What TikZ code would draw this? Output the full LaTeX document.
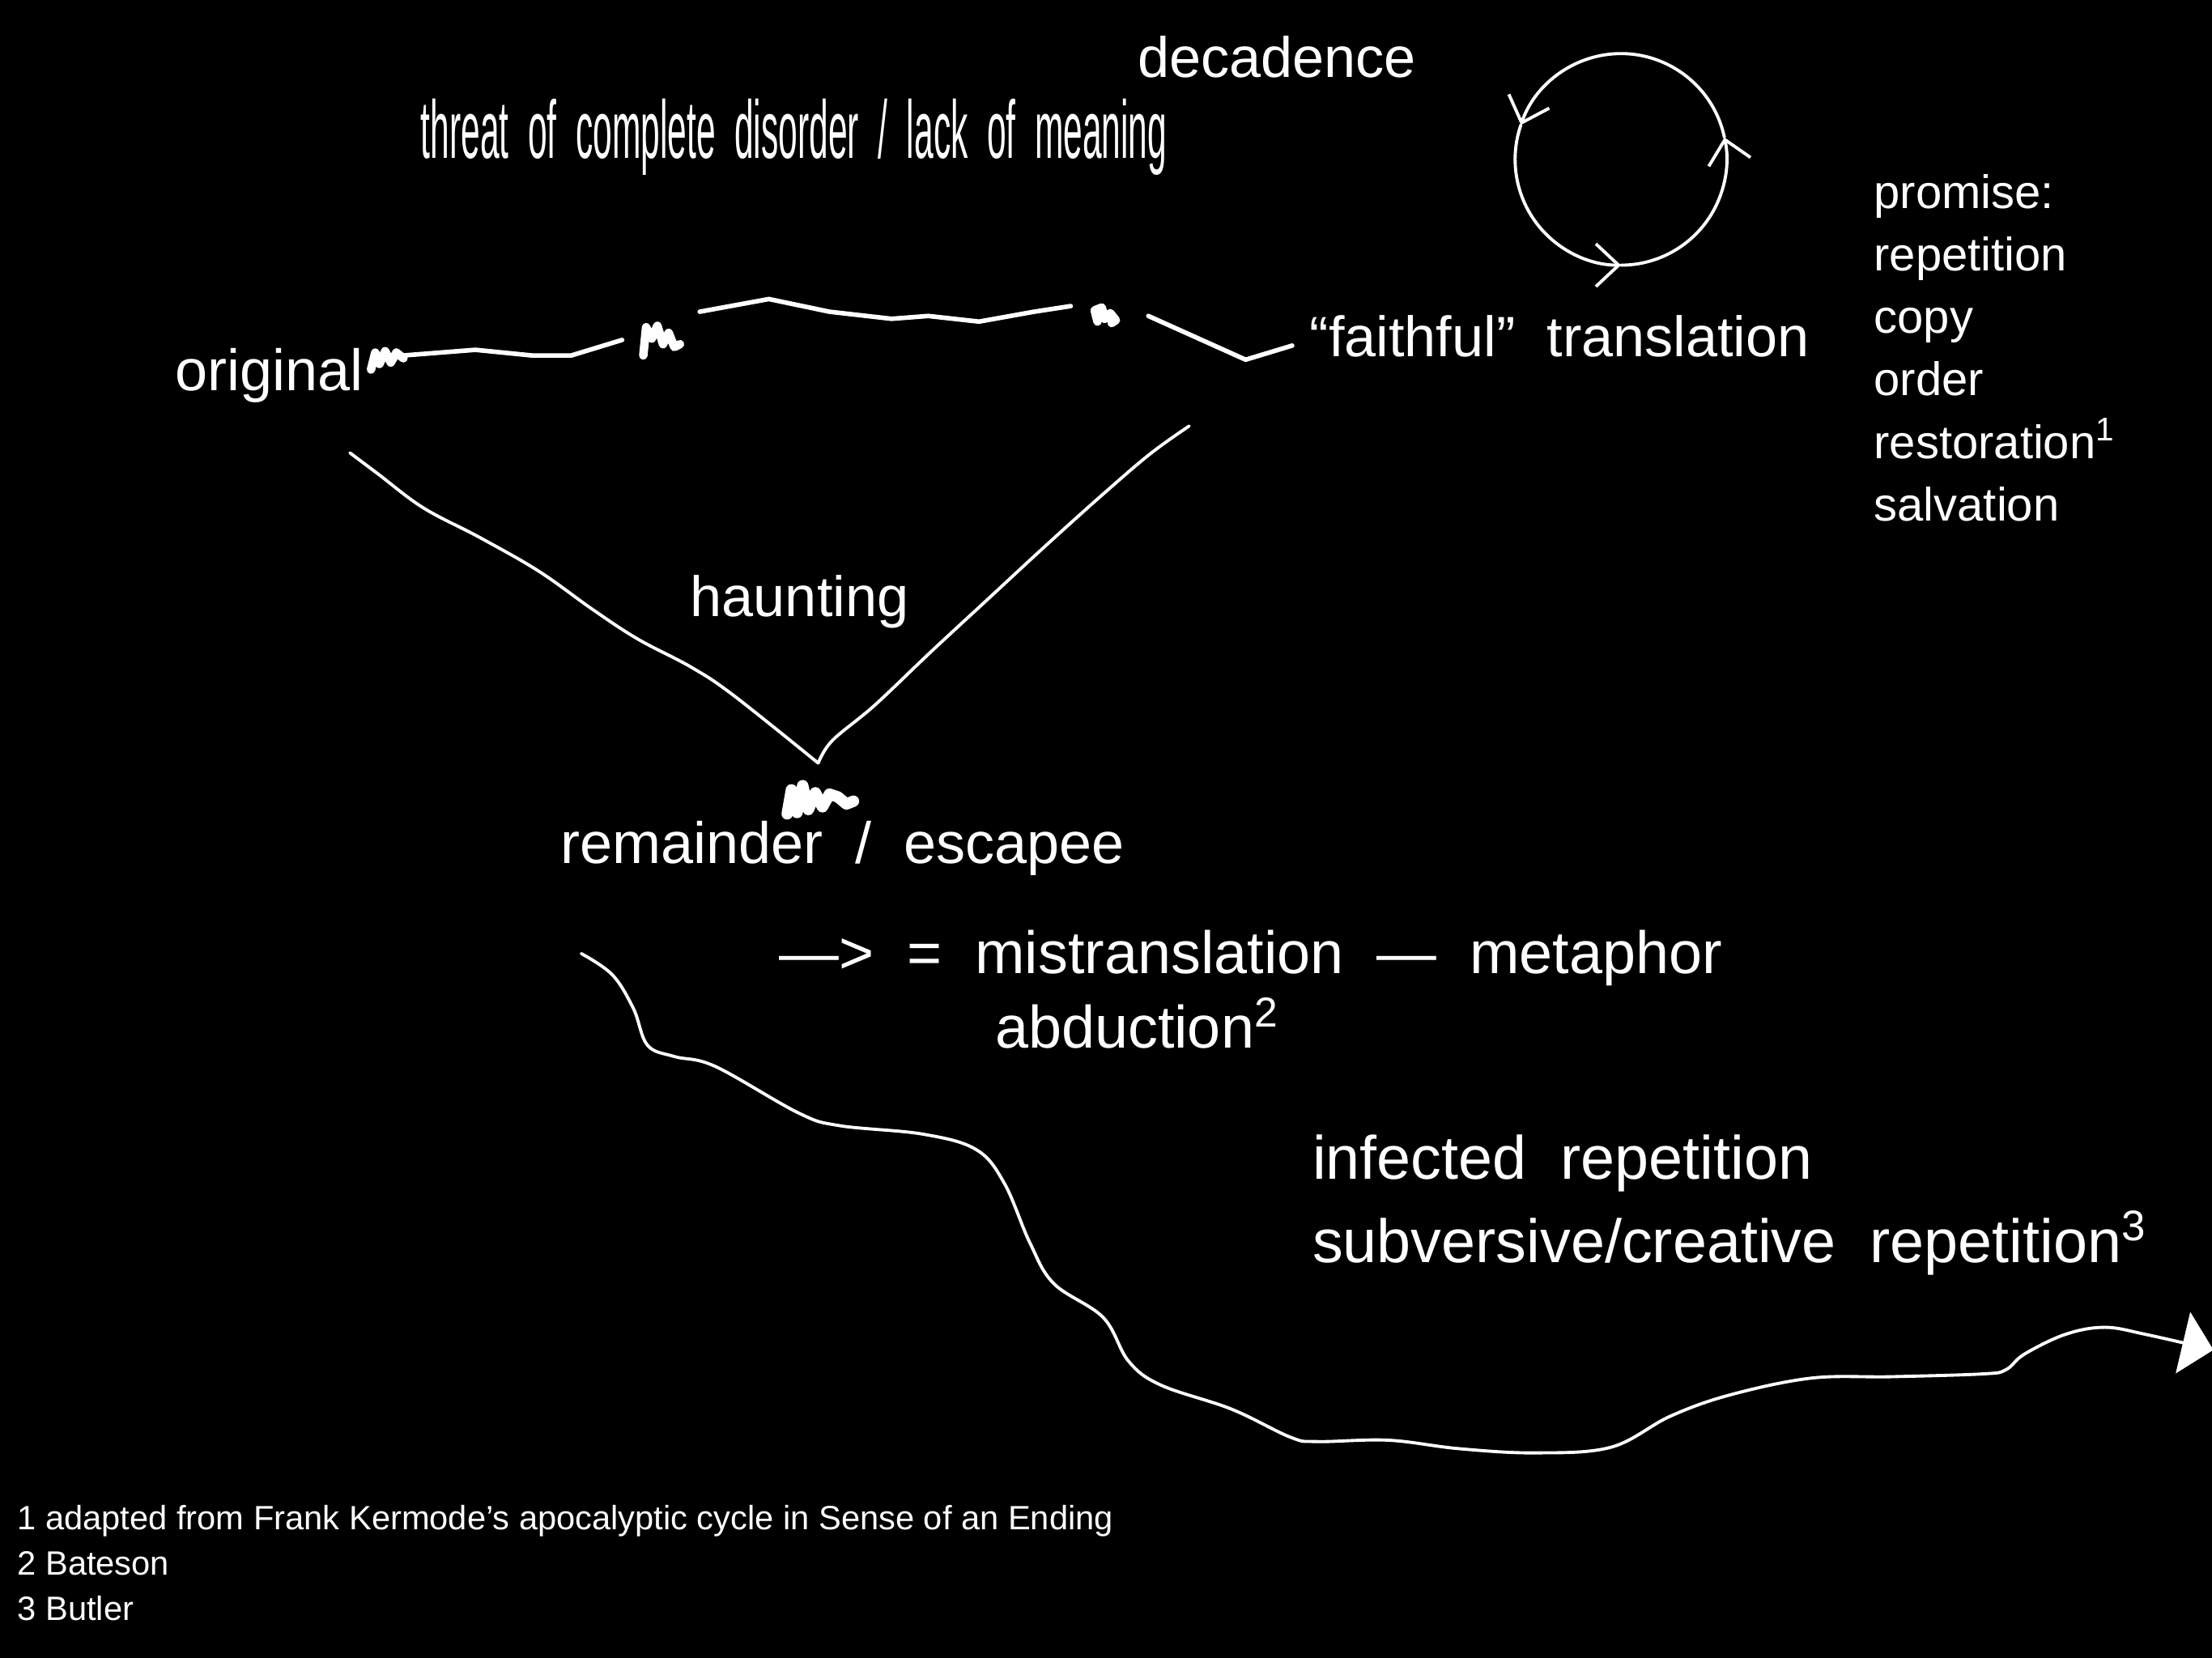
\documentclass[tikz,border=0pt]{standalone}
\usepackage{fontspec}
\setmainfont{Liberation Sans}
\usepackage{graphicx}
\usetikzlibrary{arrows.meta}
\tikzset{
  lbl/.style={text=white, inner sep=0pt, anchor=base west, font=\fontsize{21}{25}\selectfont},
  lst/.style={lbl, anchor=north west, align=left, font=\fontsize{16.5}{22}\selectfont},
  note/.style={lbl, anchor=north west, align=left, font=\fontsize{11.85}{15.8}\selectfont},
  hand/.style={white, line width=1.1pt, line cap=round, line join=round},
  rough/.style={white, line width=1.6pt, line cap=round, line join=round},
  scrib/.style={white, line width=3pt, line cap=round, line join=round}
}
\begin{document}
\begin{tikzpicture}[x=0.017423cm, y=-0.017423cm, >={Straight Barb[length=8pt,width=15pt]}]
\fill[black] (0,0) rectangle (1568,1175.4);
\useasboundingbox (0,0) rectangle (1568,1175.4);
\node[lbl, font=\fontsize{20}{24}\selectfont] (dec) at (806,55) {decadence};
\node[lbl, font=\fontsize{28.8}{34}\selectfont] (threat) at (298,112) {\scalebox{.42}[1]{threat~~of~~complete~~disorder~~/~~lack~~of~~meaning}};
\node[lbl, font=\fontsize{20.5}{24}\selectfont] (orig) at (124,277) {original};
\node[lbl, font=\fontsize{20}{24}\selectfont] (faith) at (928,253) {“faithful”~~translation};
\node[lst] (prom) at (1328,123) {promise:\\repetition\\copy\\order\\restoration\textsuperscript{1}\\salvation};
\node[lbl, font=\fontsize{20}{24}\selectfont] (haunt) at (489,437) {haunting};
\node[lbl, font=\fontsize{20.5}{24}\selectfont] (rem) at (397,612) {remainder~~/~~escapee};
\node[lbl] (mis) at (552,690) {—>~~=~~mistranslation~~—~~metaphor};
\node[lbl] (abd) at (705,743) {abduction\textsuperscript{2}};
\node[lbl, font=\fontsize{21.5}{25}\selectfont] (inf) at (930,836) {infected~~repetition};
\node[lbl, font=\fontsize{21.5}{25}\selectfont] (sub) at (930,895) {subversive/creative~~repetition\textsuperscript{3}};
\node[note] (fn) at (12,1067) {1 adapted from Frank Kermode’s apocalyptic cycle in Sense of an Ending\\2 Bateson\\3 Butler};
\coordinate (cyc) at (1149,113);
\draw[hand,->] ([shift={(-12:75)}]cyc) arc[start angle=-12, end angle=-161, radius=75];
\draw[hand,->] ([shift={(-161:75)}]cyc) arc[start angle=-161, end angle=-270, radius=75];
\draw[hand,->] ([shift={(-270:75)}]cyc) arc[start angle=-270, end angle=-372, radius=75];
\draw[scrib] (263,262) -- (266,250) -- (269,258) -- (273,249) -- (277,257) -- (281,250) -- (286,254);
\draw[rough] (286,252) -- (337,248) -- (377,252) -- (405,252) -- (441,241);
\draw[scrib] (456,252) -- (458,232) -- (462,240) -- (466,231) -- (470,244) -- (474,236) -- (478,246) -- (482,244);
\draw[rough] (496,221) -- (545,212) -- (588,221) -- (632,226) -- (658,224) -- (694,228) -- (733,221) -- (759,217);
\draw[scrib] (778,228) -- (776,220) -- (781,218) -- (783,226) -- (787,222) -- (791,227) -- (788,229);
\draw[rough] (814,224) -- (883,255) -- (916,245);
\draw[hand] plot[smooth, tension=.6] coordinates {(248,321) (268,336) (300,360) (340,381) (382,405) (420,432) (452,453) (490,473) (520,493) (580,541)};
\draw[hand] plot[smooth, tension=.6] coordinates {(580,541) (590,525) (620,500) (660,462) (700,425) (740,388) (780,352) (815,322) (843,302)};
\draw[scrib, line width=4pt] (558,577) -- (561,560) -- (565,576) -- (569,557) -- (573,574) -- (578,562) -- (583,572) -- (588,563) -- (594,565) -- (600,570) -- (605,568);
\draw[hand, -{Triangle[length=11pt,width=22pt]}] plot[smooth, tension=.6] coordinates {(412,676) (434,691) (449,715) (459,741) (478,749) (507,756) (566,789) (595,798) (654,804) (692,815) (712,839) (730,881) (747,910) (782,934) (800,965) (823,982) (873,999) (915,1019) (934,1022) (984,1021) (1034,1027) (1088,1030) (1142,1026) (1184,1004) (1226,989) (1284,977) (1341,976) (1406,974) (1422,971) (1435,960) (1464,946) (1492,941) (1521,946) (1569,957)};
\end{tikzpicture}
\end{document}
